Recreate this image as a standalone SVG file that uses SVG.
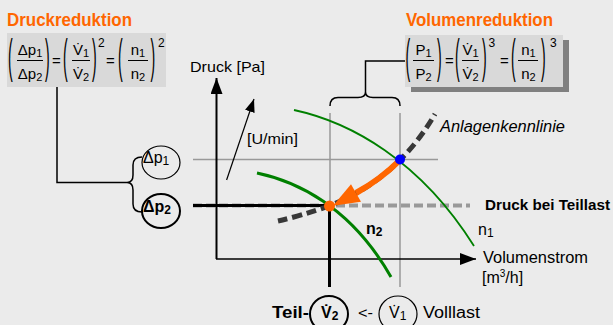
<svg xmlns="http://www.w3.org/2000/svg" width="613" height="325" viewBox="0 0 613 325">
<style>
text{font-family:"Liberation Sans",Arial,"DejaVu Sans",sans-serif;fill:#000}
.title{font-size:17.5px;font-weight:bold;fill:#ff6600}
.f{font-size:15px}
.p{font-size:14px}
.sub{font-size:11px}
.sup{font-size:12px}
.box{fill:#d9d9d9}
.shadow{fill:#808080}
.frac{stroke:#000;stroke-width:1}
.conn{fill:none;stroke:#000;stroke-width:1.5}
.grid{stroke:#999;stroke-width:1.5;fill:none}
.green{fill:none;stroke:#008000}
.lbl{font-size:16px}
.node{fill:none;stroke:#000}
</style>
<defs>
<marker id="ah" viewBox="0 0 16 12" refX="16" refY="6" markerWidth="16" markerHeight="12" markerUnits="userSpaceOnUse" orient="auto"><path d="M0,0L16,6L0,12z" fill="#000"/></marker>
<marker id="ahs" viewBox="0 0 13 10" refX="13" refY="5" markerWidth="13" markerHeight="10" markerUnits="userSpaceOnUse" orient="auto"><path d="M0,0L13,5L0,10z" fill="#000"/></marker>
</defs>
<rect width="613" height="325" fill="#ebebeb"/>

<g id="druckreduktion">
<text class="title" x="7" y="26" textLength="125" lengthAdjust="spacingAndGlyphs">Druckreduktion</text>
<rect class="box" x="7" y="33" width="159" height="54"/>
<text class="p" transform="translate(8,72) scale(1,3.3)">(</text>
<text class="f" x="30" y="55" text-anchor="middle">Δp<tspan class="sub" dy="2">1</tspan></text>
<line class="frac" x1="17" y1="60.5" x2="43" y2="60.5"/>
<text class="f" x="30" y="79" text-anchor="middle">Δp<tspan class="sub" dy="2">2</tspan></text>
<text class="p" transform="translate(45,72) scale(1,3.3)">)</text>
<text class="f" x="52" y="66">=</text>
<text class="p" transform="translate(63,72) scale(1,3.3)">(</text>
<text class="f" x="81" y="55" text-anchor="middle">V&#x307;<tspan class="sub" dy="2">1</tspan></text>
<line class="frac" x1="72" y1="60.5" x2="90" y2="60.5"/>
<text class="f" x="81" y="79" text-anchor="middle">V&#x307;<tspan class="sub" dy="2">2</tspan></text>
<text class="p" transform="translate(92,72) scale(1,3.3)">)</text>
<text class="sup" x="98" y="47">2</text>
<text class="f" x="106" y="66">=</text>
<text class="p" transform="translate(118,72) scale(1,3.3)">(</text>
<text class="f" x="138" y="55" text-anchor="middle">n<tspan class="sub" dy="2">1</tspan></text>
<line class="frac" x1="128" y1="60.5" x2="148" y2="60.5"/>
<text class="f" x="138" y="79" text-anchor="middle">n<tspan class="sub" dy="2">2</tspan></text>
<text class="p" transform="translate(150.5,72) scale(1,3.3)">)</text>
<text class="sup" x="158" y="47">2</text>
</g>

<g id="volumenreduktion">
<text class="title" x="406" y="26" textLength="147" lengthAdjust="spacingAndGlyphs">Volumenreduktion</text>
<rect class="shadow" x="411" y="40" width="158" height="52"/>
<rect class="box" x="405" y="35" width="158" height="52"/>
<text class="p" transform="translate(405.5,72) scale(1,3.3)">(</text>
<text class="f" x="423.5" y="55" text-anchor="middle">P<tspan class="sub" dy="2">1</tspan></text>
<line class="frac" x1="413" y1="60.5" x2="434" y2="60.5"/>
<text class="f" x="423.5" y="79" text-anchor="middle">P<tspan class="sub" dy="2">2</tspan></text>
<text class="p" transform="translate(437,72) scale(1,3.3)">)</text>
<text class="f" x="445" y="66">=</text>
<text class="p" transform="translate(455,72) scale(1,3.3)">(</text>
<text class="f" x="470.5" y="55" text-anchor="middle">V&#x307;<tspan class="sub" dy="2">1</tspan></text>
<line class="frac" x1="462" y1="60.5" x2="479" y2="60.5"/>
<text class="f" x="470.5" y="79" text-anchor="middle">V&#x307;<tspan class="sub" dy="2">2</tspan></text>
<text class="p" transform="translate(482,72) scale(1,3.3)">)</text>
<text class="sup" x="488.5" y="47">3</text>
<text class="f" x="500" y="66">=</text>
<text class="p" transform="translate(511,72) scale(1,3.3)">(</text>
<text class="f" x="528.5" y="55" text-anchor="middle">n<tspan class="sub" dy="2">1</tspan></text>
<line class="frac" x1="518" y1="60.5" x2="538" y2="60.5"/>
<text class="f" x="528.5" y="79" text-anchor="middle">n<tspan class="sub" dy="2">2</tspan></text>
<text class="p" transform="translate(541,72) scale(1,3.3)">)</text>
<text class="sup" x="550" y="47">3</text>
</g>

<g id="connectors">
<path class="conn" d="M57,87 V182.5 H127"/>
<path class="conn" d="M142,157 Q133,157 133,165 V175 Q133,182.5 127,182.5 Q133,182.5 133,190 V204 Q133,212 142,212"/>
<path class="conn" d="M405,61 H365.5 V92"/>
<path class="conn" d="M330,106 Q330,97.5 338,97.5 H358 Q365.5,97.5 365.5,92 Q365.5,97.5 373,97.5 H392 Q400,97.5 400,106"/>
</g>

<g id="chart">
<line class="grid" x1="330" y1="113" x2="330" y2="206"/>
<line class="grid" x1="400" y1="113" x2="400" y2="287"/>
<line class="grid" x1="193" y1="159.5" x2="438" y2="159.5"/>
<line x1="193" y1="205.5" x2="470" y2="205.5" stroke="#999" stroke-width="4" stroke-dasharray="9 4"/>
<line x1="193" y1="205.5" x2="329.5" y2="205.5" stroke="#000" stroke-width="3"/>
<line x1="329.5" y1="205.5" x2="329.5" y2="287" stroke="#000" stroke-width="3"/>
<path d="M216.5,259 V78" stroke="#000" stroke-width="2" marker-end="url(#ah)"/>
<path d="M216,259 H476" stroke="#000" stroke-width="1.7" marker-end="url(#ah)"/>
<path d="M226.6,180 L254,99" stroke="#000" stroke-width="1.2" marker-end="url(#ahs)"/>
<path class="green" stroke-width="1.8" d="M294,110 C350,122 420,160 474,246"/>
<path class="green" stroke-width="3" d="M257,173 C295,181 350,205 391,277"/>
<path d="M278,221 Q300,216 329,206 Q370,190 400,160 Q420,140 435,114" fill="none" stroke="#383838" stroke-width="5" stroke-dasharray="10 5"/>
<path d="M400,160 Q380.5,179.5 356,193" fill="none" stroke="#ff6600" stroke-width="6"/>
<polygon points="333,205.7 361,201.7 351,184.3" fill="#ff6600"/>
<circle cx="329.5" cy="206" r="5.5" fill="#ff6600"/>
<circle cx="400" cy="159.5" r="5" fill="#0000ff"/>
<text x="190" y="72" font-size="15" textLength="75" lengthAdjust="spacingAndGlyphs">Druck [Pa]</text>
<text x="247" y="143.5" font-size="15" textLength="51" lengthAdjust="spacingAndGlyphs">[U/min]</text>
<text x="440" y="132" font-size="16" font-style="italic" textLength="125" lengthAdjust="spacingAndGlyphs">Anlagenkennlinie</text>
<text x="485" y="210" font-size="15.5" font-weight="bold" textLength="125" lengthAdjust="spacingAndGlyphs">Druck bei Teillast</text>
<text x="478" y="235" font-size="16">n<tspan font-size="12" dy="2">1</tspan></text>
<text x="366" y="234" font-size="16" font-weight="bold">n<tspan font-size="12" dy="2">2</tspan></text>
<text x="483" y="263" class="lbl" textLength="105" lengthAdjust="spacingAndGlyphs">Volumenstrom</text>
<text x="482" y="283" class="lbl">[m<tspan font-size="10" dy="-6">3</tspan><tspan dy="6">/h]</tspan></text>
</g>

<g id="node-dp1">
<ellipse class="node" cx="161" cy="162.5" rx="19" ry="16.5" stroke-width="1.2"/>
<text x="143" y="163" font-size="16">Δp<tspan font-size="12" dy="2">1</tspan></text>
</g>
<g id="node-dp2">
<ellipse class="node" cx="161" cy="211" rx="19" ry="17" stroke-width="2"/>
<text x="143" y="212" font-size="16" font-weight="bold">Δp<tspan font-size="12" dy="2">2</tspan></text>
</g>
<g id="node-v2">
<text x="272" y="318" font-size="16" font-weight="bold" textLength="37" lengthAdjust="spacingAndGlyphs">Teil-</text>
<ellipse class="node" cx="329" cy="314" rx="19" ry="18" stroke-width="2"/>
<text x="321" y="318" font-size="16" font-weight="bold">V&#x307;<tspan font-size="12" dy="2">2</tspan></text>
</g>
<text x="358" y="318" font-size="15" textLength="15" lengthAdjust="spacingAndGlyphs">&lt;-</text>
<g id="node-v1">
<ellipse class="node" cx="398" cy="314" rx="19" ry="18" stroke-width="1.2"/>
<text x="389" y="318" font-size="16">V&#x307;<tspan font-size="12" dy="2">1</tspan></text>
<text x="423" y="318" font-size="16" textLength="57" lengthAdjust="spacingAndGlyphs">Volllast</text>
</g>
</svg>
